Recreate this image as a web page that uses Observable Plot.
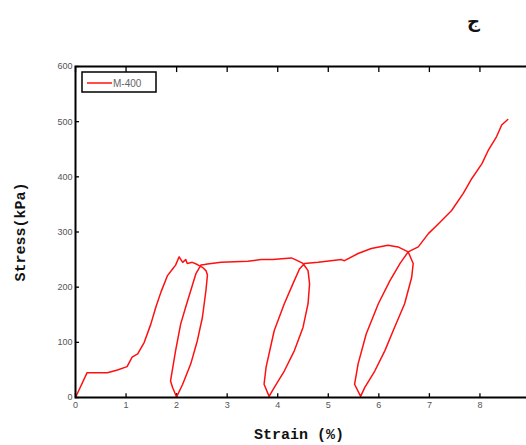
<!DOCTYPE html>
<html>
<head>
<meta charset="utf-8">
<script src="https://cdn.jsdelivr.net/npm/d3@7"></script>
<script src="https://cdn.jsdelivr.net/npm/@observablehq/plot@0.6"></script>
<style>
  html, body { margin: 0; padding: 0; background: #fff; }
  #wrap { position: relative; width: 526px; height: 445px; overflow: hidden; }
  #tag { position: absolute; left: 467px; top: 10px; font-family: "DejaVu Sans", "Noto Sans", sans-serif; font-weight: bold; font-size: 18px; color: #111; }
</style>
</head>
<body>
<div id="wrap"><div id="tag">ج</div></div>
<script>
// Series: M-400 cyclic stress–strain curve
const seriesName = "M-400";
const strain = [
  0, 0.23, 0.63, 0.83, 1.02, 1.12, 1.23, 1.36, 1.49, 1.59, 1.69, 1.82, 1.92, 1.98, 2.05, 2.12, 2.18, 2.21, 2.31, 2.41, 2.51,
  2.58, 2.61, 2.58, 2.51, 2.41, 2.28, 2.12, 2.0,
  1.92, 1.88, 1.98, 2.08, 2.18, 2.28, 2.38, 2.48, 2.55,
  2.61, 2.88, 3.41, 3.67, 3.90, 4.27, 4.37, 4.50,
  4.60, 4.63, 4.60, 4.50, 4.33, 4.13, 3.93, 3.83,
  3.73, 3.77, 3.93, 4.13, 4.30, 4.43, 4.53,
  4.80, 5.26, 5.32, 5.59, 5.85, 6.18, 6.38, 6.58,
  6.68, 6.65, 6.51, 6.31, 6.12, 5.92, 5.72, 5.64,
  5.52, 5.59, 5.75, 5.99, 6.22, 6.42, 6.58,
  6.78, 6.98, 7.18, 7.44, 7.67, 7.84, 8.04, 8.17, 8.33, 8.43, 8.55
];
const stress = [
  0, 45, 45, 50, 56, 73, 79, 100, 133, 164, 191, 221, 233, 240, 255, 245, 250, 243, 245, 241, 236,
  230, 222, 194, 145, 103, 61, 24, 1,
  18, 30, 85, 133, 164, 194, 224, 240, 241,
  242, 245, 247, 250, 250, 253, 249, 243,
  230, 206, 170, 127, 85, 48, 18, 2,
  24, 55, 121, 170, 206, 233, 243,
  245, 250, 248, 261, 270, 276, 273, 264,
  243, 218, 170, 127, 85, 48, 18, 2,
  24, 61, 115, 170, 212, 243, 264,
  273, 297, 315, 339, 370, 397, 424, 449, 473, 494, 504
];
const xTicks = [0, 1, 2, 3, 4, 5, 6, 7, 8, 9];
const xTickLabels = ["0", "1", "2", "3", "4", "5", "6", "7", "8", ""];
const yTicks = [0, 100, 200, 300, 400, 500, 600];
const xLabel = "Strain (%)";
const yLabel = "Stress(kPa)";

const data = strain.map((s, i) => ({strain: s, stress: stress[i], order: i}));
const xDomain = [0, 9];
const yDomain = [0, 600];
const xTickLen = 0.08;   // in strain units
const yTickLenB = 7;     // in stress units
const yTickLenT = 11;

const chart = Plot.plot({
  width: 526,
  height: 445,
  marginLeft: 75,
  marginRight: -4,
  marginTop: 66,
  marginBottom: 48,
  style: {fontFamily: "'Liberation Sans', Arial, sans-serif", fontSize: "9px", background: "white"},
  x: {domain: xDomain},
  y: {domain: yDomain},
  marks: [
    Plot.axisX({ticks: xTicks, tickSize: 0, tickPadding: 4, label: null, fill: "#555",
      tickFormat: d => xTickLabels[xTicks.indexOf(d)]}),
    Plot.axisY({ticks: yTicks, tickSize: 0, tickPadding: 3, label: null, fill: "#555"}),
    // inward ticks
    Plot.ruleX(xTicks, {x: d => d, y1: 0, y2: yTickLenB, stroke: "black", strokeWidth: 1.3}),
    Plot.ruleX(xTicks, {x: d => d, y1: 600 - yTickLenT, y2: 600, stroke: "black", strokeWidth: 1.3}),
    Plot.ruleY(yTicks, {y: d => d, x1: 0, x2: xTickLen, stroke: "black", strokeWidth: 1.3}),
    Plot.ruleY(yTicks, {y: d => d, x1: 9 - xTickLen, x2: 9, stroke: "#777", strokeWidth: 1}),
    Plot.line(data, {x: "strain", y: "stress", stroke: "#ff1010", strokeWidth: 1.5, curve: "linear"}),
    Plot.frame({stroke: "black", strokeWidth: 2}),
    Plot.text([xLabel], {text: d => d, frameAnchor: "bottom", dy: 41, dx: -4,
      fontFamily: "'Liberation Mono', 'DejaVu Sans Mono', monospace", fontWeight: "bold", fontSize: 15, fill: "#111"}),
    Plot.text([yLabel], {text: d => d, frameAnchor: "left", textAnchor: "middle", dx: -55, rotate: -90,
      fontFamily: "'Liberation Mono', 'DejaVu Sans Mono', monospace", fontWeight: "bold", fontSize: 15, fill: "#111"})
  ]
});

document.getElementById("wrap").appendChild(chart);

// Legend box (top-left inside frame)
const svg = d3.select(chart);
const lg = svg.append("g").attr("transform", "translate(82,72)");
lg.append("rect").attr("width", 74).attr("height", 20).attr("fill", "white").attr("stroke", "black").attr("stroke-width", 1.5);
lg.append("line").attr("x1", 5).attr("x2", 30).attr("y1", 11).attr("y2", 11).attr("stroke", "#ff1010").attr("stroke-width", 1.5);
lg.append("text").attr("x", 31).attr("y", 11).attr("dy", "0.35em").attr("font-size", 10).attr("text-anchor", "start")
  .attr("font-family", "'Liberation Sans', Arial, sans-serif").attr("fill", "#666").text(seriesName);
</script>
</body>
</html>
